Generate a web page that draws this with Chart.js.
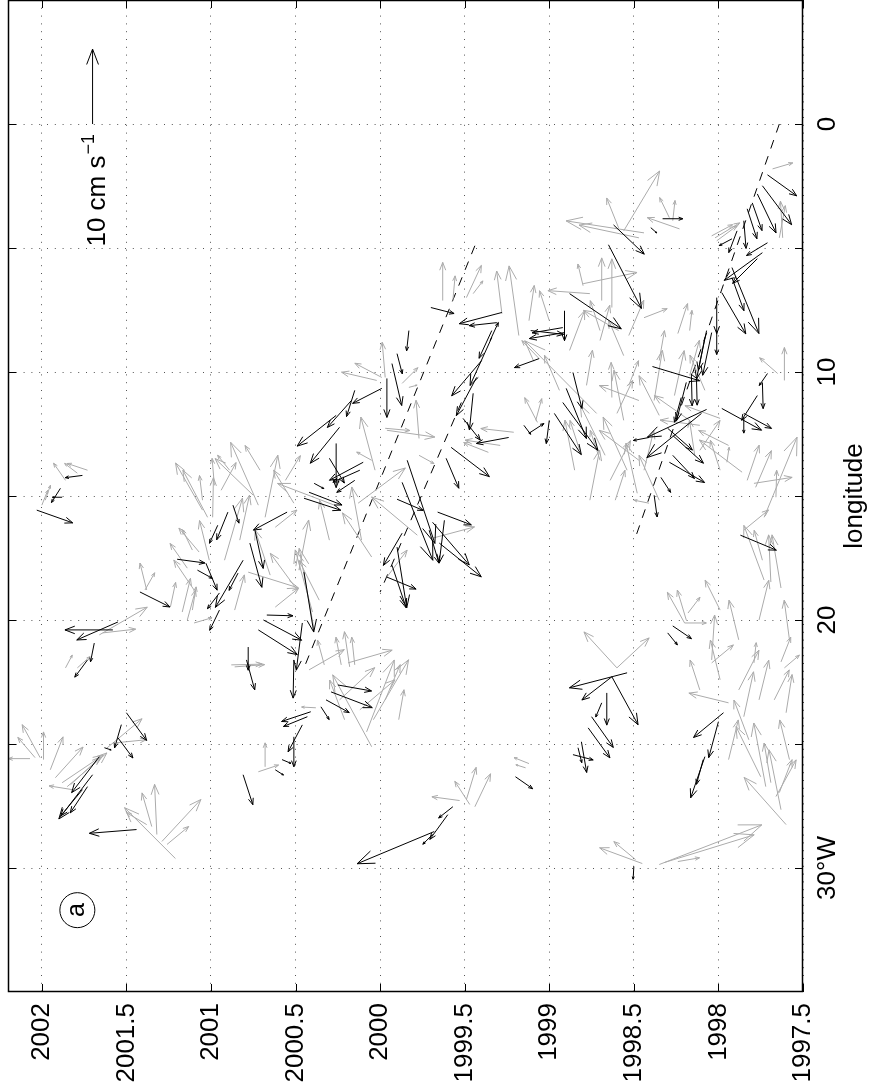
<!DOCTYPE html>
<html>
<head>
<meta charset="utf-8">
<script src="https://cdn.jsdelivr.net/npm/chart.js@4/dist/chart.umd.min.js"></script>
<style>
  html, body { margin: 0; padding: 0; background: #fff; }
  #wrap { width: 869px; height: 1090px; }
</style>
</head>
<body>
<div id="wrap"><canvas id="chart" width="869" height="1090"></canvas></div>
<script>
'use strict';

// ************************* DATA **********************************
const timeTicks = [1997.5, 1998, 1998.5, 1999, 1999.5, 2000, 2000.5, 2001, 2001.5, 2002];
const lonTicks = [0, 5, 10, 15, 20, 25, 30];
const lonLabelValues = [0, 10, 20, 30];
const lonLabelTexts = ['0', '10', '20', '30°W'];

// scale arrow: [time, lon, u east cm/s, v north cm/s]
const refArrow = [2001.70, 0, 10, 0];
const refLabel = '10 cm s';
const refLabelSup = '−1';
const panelLetter = 'a';
const panelPos = [2001.79, 31.7];

// dashed propagation lines: [time, lon] end points
const frontA = [[1999.44, 4.91], [2000.45, 21.93]];
const frontB = [[1999.52, 11.23], [2000.00, 18.87]];
const frontC = [[1997.64, 0.0], [1998.49, 16.66]];

// [time, lon (deg W), u (cm/s, east), v (cm/s, north)]
const grayArrows = [
  [1998.59, 4.19, 4.0, 1.6], [1998.56, 4.31, 8.0, -4.8], [1998.44, 4.39, 1.6, 10.4], [1998.47, 4.59, 1.7, 8.0],
  [1998.80, 6.52, 2.9, 0.7], [1998.69, 7.12, 5.7, 0], [1998.63, 7.40, 6.5, 0], [1998.76, 6.84, 0.4, 5.6],
  [1998.80, 6.44, 1.5, -7.2], [1999.63, 7.12, 5.1, 0], [1999.57, 7.12, 3.3, -0.3], [1999.49, 7.00, 4.3, -2.0],
  [1999.28, 7.65, 5.7, 0.7], [1999.18, 8.53, 9.3, 1.3], [1999.45, 6.84, 1.7, -1.3], [1997.68, 1.81, 0.8, -2.7],
  [1997.62, 4.59, 4.9, 0.3], [1997.64, 4.59, 4.3, -0.8], [1998.02, 4.59, 2.0, -3.3], [1998.01, 4.71, 2.0, -2.7],
  [1998.04, 4.51, 1.5, -2.8], [1998.29, 3.78, 2.7, 1.3], [1998.27, 3.90, 2.7, -0.3], [1998.23, 4.23, 1.5, 4.3],
  [1998.44, 7.81, 1.2, -3.1], [1998.24, 8.45, 4.0, -1.3], [1998.17, 8.33, 2.7, -0.3], [2001.86, 14.37, 2.3, 1.6],
  [2001.79, 14.08, 1.3, 1.7], [2001.73, 13.96, 0.9, 2.7], [2002.00, 15.37, 2.0, -0.8], [2001.98, 15.17, 2.0, -0.7],
  [2001.05, 15.57, 6.3, 3.6], [2001.02, 15.86, 6.3, 3.3], [2001.05, 15.17, 3.3, 0.4], [2000.99, 15.86, 5.3, -0.1],
  [2001.07, 17.26, 3.2, 2.7], [2001.11, 17.18, 2.7, 1.3], [2001.14, 17.91, 3.3, 2.3], [2001.38, 18.79, 3.6, 0.9],
  [2001.39, 18.79, 2.3, -1.3], [2001.24, 19.48, 3.3, -0.7], [2001.17, 19.68, 4.5, -1.1], [2001.11, 19.60, 3.1, -0.5],
  [2001.14, 20.00, 4.0, -1.1], [2001.10, 20.12, 0.7, -2.4], [2001.66, 20.60, 3.7, -6.4], [2001.64, 20.52, 0.5, -4.4],
  [2001.86, 21.93, 1.7, -0.9], [2001.79, 21.93, 1.5, -1.7], [2002.01, 25.55, 4.4, 2.4], [2001.99, 25.63, 3.7, 0],
  [2001.95, 26.04, 4.4, -1.7], [2002.07, 25.59, 0, 2.9], [2002.04, 25.55, 2.7, 2.3], [2001.92, 26.36, 4.1, -3.7],
  [2001.88, 26.56, 3.7, -5.5], [2001.83, 26.64, 3.7, -4.0], [2001.85, 26.72, 4.5, -5.3], [2001.82, 26.84, 0.5, 3.1],
  [2001.62, 25.19, 4.0, -4.8], [2001.56, 24.95, 0.4, -4.0], [2001.21, 29.62, 6.8, 6.8], [2001.32, 28.65, 6.7, 0.3],
  [2001.35, 28.33, 4.5, 1.3], [2001.38, 28.25, 1.6, 2.7], [2001.29, 28.93, 5.6, -5.2], [2001.26, 29.05, 2.4, -2.9],
  [2000.86, 21.89, 0.3, -4.0], [2000.38, 23.54, 0.1, 1.9], [2000.72, 26.12, 0.9, -2.7], [2000.68, 25.92, 3.2, 0],
  [2000.08, 24.51, 9.6, -3.7], [2000.05, 25.11, 9.6, 5.2], [2000.04, 24.02, 8.0, -4.7], [2000.12, 23.62, 4.0, -4.7],
  [2000.24, 23.22, 4.3, -4.7], [1999.12, 25.79, 0.8, 2.0], [1999.14, 25.96, 0.4, 1.3], [1999.53, 27.28, 0.5, 3.7],
  [1999.47, 27.44, 3.1, 2.0], [1999.49, 27.24, 4.3, -1.3], [1999.44, 27.53, 4.4, -2.1], [1998.45, 29.82, 2.1, 5.7],
  [1998.49, 29.66, 2.4, 2.9], [1997.94, 23.34, 1.3, 5.3], [1997.85, 23.90, 6.0, -1.3], [1997.75, 26.32, 6.7, 3.3],
  [1997.72, 26.72, 8.5, 1.6], [1997.69, 26.56, 5.3, 0.9], [1997.63, 27.65, 8.0, 1.6], [1997.66, 27.12, 4.9, -2.7],
  [1997.64, 26.96, 4.4, -1.7], [1997.60, 28.25, 6.3, 5.6], [1997.60, 23.74, 5.1, -0.8], [1998.35, 29.86, 5.3, -13.7],
  [1998.32, 29.78, 3.7, -12.0], [1998.24, 29.74, 0.5, -2.9], [1999.97, 10.22, 4.7, 0.4], [2000.02, 10.34, 1.1, 4.7],
  [1999.99, 10.22, 1.9, 3.6], [1999.87, 10.46, 2.1, -2.1], [1999.83, 10.62, 0.3, -1.1], [2000.03, 13.96, 7.1, 1.9],
  [2000.05, 13.56, 1.1, 2.0], [1999.96, 12.35, -0.9, -6.4], [1999.97, 12.27, -0.3, -3.3], [1999.77, 12.68, 5.1, 0.4],
  [2000.27, 15.37, 2.9, 7.6], [2000.51, 15.29, 4.4, 2.7], [2000.72, 15.37, 8.4, 3.7], [2000.75, 14.97, 4.9, 5.1],
  [2000.68, 15.86, 8.3, -1.7], [2000.62, 16.26, 2.3, -2.9], [2000.92, 17.59, 8.3, -2.4], [2000.78, 18.07, -2.1, -6.7],
  [2000.62, 19.48, 2.5, -3.1], [2000.49, 18.79, 4.9, 3.6], [2000.39, 20.40, 10.9, 2.0], [2000.40, 19.68, 8.3, 2.3],
  [2000.05, 17.46, 5.9, 3.9], [2000.11, 16.78, 7.1, 1.3], [2000.13, 15.29, 4.7, -6.3], [1999.78, 16.58, 5.1, 6.1],
  [1999.96, 18.27, 3.6, -2.7], [1999.77, 13.36, -1.1, -2.0], [2000.19, 21.73, 1.7, -5.9], [2000.23, 21.81, 3.7, 0.7],
  [2000.18, 21.89, 4.7, 0.7], [2000.15, 21.81, 3.7, 0.4], [2000.88, 21.81, 0.1, -4.1], [1998.54, 13.96, 7.1, 3.2],
  [1998.48, 14.89, 6.7, 1.5], [1998.60, 11.67, 4.4, -2.1], [1998.78, 10.54, 4.7, -0.8], [1998.63, 11.03, 4.7, 0.1],
  [1998.53, 10.54, 3.3, -1.3], [1998.72, 11.67, 9.7, 9.6], [1999.06, 9.46, 2.4, 2.3], [1999.08, 11.95, 2.9, -0.8],
  [1999.07, 12.03, 3.3, 1.7], [1999.21, 12.43, 0.5, 4.4], [1999.36, 13.24, 1.3, 3.3], [1999.29, 12.96, 0.7, 4.7],
  [1999.69, 16.70, 1.5, -5.6], [1998.41, 15.29, 0.4, 2.0], [1998.60, 21.93, 4.8, 4.4], [1998.60, 21.93, 4.0, -4.3],
  [1997.86, 14.04, 4.3, 5.7], [1997.95, 13.64, 2.0, -0.3], [1997.65, 10.06, 2.1, 2.4], [1997.61, 10.34, 4.4, 0],
  [1997.83, 14.37, 4.7, -1.6], [1997.78, 14.65, 4.9, -2.1], [1997.73, 15.86, 10.7, -4.4], [1997.66, 15.05, 3.6, -0.1],
  [1997.79, 14.49, 0.8, -5.1], [1997.73, 18.39, 7.3, 2.7], [1997.69, 18.47, 6.3, 0.3], [1997.63, 18.71, 7.1, 1.2],
  [1997.74, 17.59, 4.0, 1.1], [1997.85, 16.38, 2.7, -3.3], [1998.20, 20.12, 4.1, 2.3], [1998.19, 20.00, 4.0, 1.2],
  [1998.18, 19.72, 2.1, -1.6], [1998.20, 20.12, 0, -2.9], [1998.04, 21.61, 6.0, -0.4], [1998.04, 21.73, 2.4, -2.9],
  [1997.79, 21.73, 2.7, -0.3], [1997.63, 21.69, 3.3, -1.3], [1997.61, 21.93, 1.7, -2.0], [1998.38, 11.15, 6.7, -1.1],
  [1998.26, 10.95, 6.0, -1.3], [1998.35, 11.75, 5.3, 2.7], [1998.17, 11.95, 3.3, 4.7], [1998.11, 12.15, 0.7, 5.3],
  [1997.99, 11.87, 1.7, 4.7], [1998.14, 13.36, 4.7, 0.7], [1997.94, 12.96, 2.0, 4.0], [1997.99, 13.96, 4.0, 1.3],
  [1998.70, 13.56, 4.0, 1.3], [1998.64, 14.37, 5.3, -2.7], [1998.82, 13.16, 4.0, 1.3], [1998.47, 13.56, 4.0, 5.3],
  [1998.53, 8.53, 4.7, -2.0], [1998.59, 8.33, 2.7, 4.7], [1998.70, 8.73, 4.7, -1.3], [1997.99, 22.41, 5.3, 1.3],
  [1997.88, 22.82, 5.3, -2.7], [1997.76, 23.22, 5.3, -1.3], [1998.11, 22.82, 4.0, 1.3], [2000.98, 14.57, 3.6, 0.3],
  [2000.94, 14.77, 3.7, -2.0], [2000.89, 13.96, 2.0, 1.6], [2000.33, 21.81, 3.3, 0.9], [2000.42, 22.01, 2.7, -4.7]
];

// extra gray vectors in the crowded patches
const grayDense = [
  [1998.85, 13.96, 6.7, 1.3], [1998.76, 15.17, 6.7, -1.3], [1998.67, 13.36, 6.7, 3.3], [1998.56, 11.95, 6.7, 1.3],
  [1998.44, 13.96, 5.3, -1.3], [1998.35, 15.17, 6.0, 2.7], [1998.70, 8.33, 4.0, 1.3], [1998.88, 9.13, 5.3, -2.0],
  [1998.56, 9.34, 4.7, 2.0], [1998.11, 13.16, 4.0, -2.7], [1998.08, 10.74, 4.7, 2.0], [1998.17, 10.14, 4.7, -1.3],
  [1998.47, 11.15, 2.0, 5.3], [1998.35, 9.54, 4.0, -0.7], [1998.61, 15.17, 4.0, -1.3], [1998.94, 10.74, 4.7, 2.0],
  [2001.01, 17.59, 5.3, 1.3], [2000.83, 16.78, 6.0, -1.3], [2000.65, 18.19, 6.0, 2.0], [2000.48, 17.99, 6.7, -1.3],
  [2000.36, 19.20, 5.3, 2.7], [2000.86, 19.60, 4.7, -1.3], [2000.71, 13.96, 3.3, 2.0], [2000.56, 14.37, 3.3, -2.0],
  [2000.30, 16.78, 5.3, 1.3], [2001.10, 18.79, 4.0, 2.7], [1997.88, 20.80, 5.3, 1.3], [1997.76, 20.00, 5.3, -1.3],
  [1997.58, 20.80, 5.3, 0.7], [1997.99, 19.60, 4.0, 2.0], [1997.82, 24.83, 5.3, 2.0], [1997.94, 25.63, 5.3, -1.3],
  [1997.58, 25.63, 5.3, 1.3], [1997.67, 23.22, 4.0, -2.0], [2000.21, 24.02, 5.3, 2.0], [1999.97, 23.22, 4.7, -2.0],
  [1999.89, 24.02, 4.0, -0.7], [1999.12, 7.93, 4.7, -0.7], [1999.00, 7.93, 4.0, 1.3]
];

const blackArrows = [
  [1998.62, 4.07, -3.9, -4.1], [1998.65, 4.87, -8.5, -4.4], [1998.88, 6.84, -4.7, -6.9], [1999.70, 7.40, -0.8, -3.1],
  [1999.28, 7.60, -1.5, 5.7], [1999.31, 8.01, -0.4, 3.7], [1999.35, 8.73, 2.4, -1.1], [1998.92, 8.21, -0.7, 4.1],
  [1998.91, 8.41, -0.8, 4.7], [1998.91, 7.53, -4.0, 0], [1997.71, 2.05, -2.8, -3.9], [1997.74, 2.49, -5.2, -3.9],
  [1997.77, 2.82, -5.2, -2.5], [1997.80, 3.18, -3.7, -1.3], [1997.83, 3.42, -4.0, -1.3], [1997.85, 3.90, -3.7, -0.3],
  [1997.71, 4.79, -1.7, 2.8], [1997.74, 5.19, -3.7, 5.1], [1997.77, 5.43, -3.3, 3.3], [1997.89, 4.31, -2.9, 1.1],
  [1997.92, 4.63, -0.9, 1.7], [1997.98, 6.80, -5.5, -3.2], [1997.92, 6.20, -4.4, -1.6], [1997.92, 5.79, -8.8, -3.6],
  [1998.01, 7.00, -4.8, 0], [1998.33, 3.82, 0, -2.7], [1998.40, 4.18, -0.7, -0.8], [2002.03, 15.57, -1.7, -4.8],
  [2001.76, 14.17, -0.3, 2.3], [2001.89, 14.69, -1.9, 1.2], [2001.88, 15.05, 0, 1.3], [2000.96, 16.18, -2.4, 1.1],
  [2001.20, 17.55, -0.5, -3.7], [2001.03, 17.71, -3.6, -1.5], [2001.08, 17.99, -1.1, -2.0], [2001.42, 18.87, -2.0, -4.0],
  [2000.95, 18.91, -2.1, 1.6], [2000.95, 19.60, -2.7, 1.3], [2001.55, 20.08, -2.4, 5.5], [2001.58, 20.40, 0, 6.4],
  [2001.69, 20.93, -2.5, 0.5], [2001.73, 21.61, -2.3, 1.7], [2001.66, 25.51, -4.8, 3.7], [2001.70, 26.24, -5.9, 4.5],
  [2001.73, 26.72, -3.5, 2.3], [2001.76, 26.84, -3.5, 2.9], [2001.63, 25.15, -0.3, -0.9], [2001.53, 24.22, -3.1, 0.9],
  [2001.55, 24.75, -2.7, -2.0], [2001.50, 23.74, -3.7, -2.7], [2001.44, 28.45, -0.5, 6.3], [2000.79, 21.61, -4.0, -1.1],
  [2000.51, 21.61, -5.1, 0.1], [2000.41, 23.70, -1.3, 3.9], [2000.43, 23.90, -1.3, 3.2], [2000.35, 23.50, -1.7, -1.1],
  [2000.32, 23.22, -1.7, -3.1], [2000.29, 22.90, -2.1, -5.5], [2000.25, 22.62, -0.8, -4.5], [2000.46, 24.23, -3.6, 1.9],
  [2000.51, 24.71, -4.0, 0], [2000.62, 26.04, -0.7, -1.1], [2000.58, 25.63, -0.5, -1.2], [2000.81, 26.24, -4.0, -1.3],
  [1999.68, 28.53, -4.3, 10.3], [1999.69, 28.65, -1.3, 1.3], [1998.54, 22.13, -2.0, 7.7], [1998.63, 22.29, -3.1, 4.0],
  [1998.63, 22.29, -6.4, -3.5], [1998.66, 22.94, -4.3, 0], [1998.75, 23.90, -4.1, -2.9], [1998.77, 24.35, -4.0, -2.9],
  [1998.81, 24.91, -4.1, -0.7], [1998.86, 25.43, -0.7, -2.7], [1998.83, 25.15, -2.0, -0.5], [1998.69, 23.34, -1.9, 0.8],
  [1999.20, 26.32, -1.6, -2.3], [1999.57, 27.53, -1.5, 1.9], [1999.60, 27.85, -3.3, 2.4], [1998.50, 29.94, -1.7, 0.1],
  [1997.97, 23.74, -3.3, 4.0], [1998.00, 24.10, -4.8, 1.3], [1998.08, 25.51, -5.5, 1.9], [1998.09, 25.63, -3.3, 0.9],
  [1999.83, 8.33, -2.7, 0.3], [1999.90, 9.26, -2.7, -0.7], [1999.99, 10.66, -2.0, 3.9], [1999.96, 10.26, -5.2, 0],
  [1999.93, 9.66, -5.6, -1.3], [2000.15, 10.74, -3.5, 1.1], [2000.17, 11.15, -3.6, 3.2], [2000.26, 11.75, -4.1, 5.2],
  [2000.24, 12.23, -4.8, 3.9], [2000.26, 12.88, -5.9, 0], [2000.30, 13.48, -3.3, -2.0], [2000.10, 13.64, -2.4, 4.5],
  [2000.12, 13.96, -1.6, 3.6], [2000.15, 14.37, -1.6, 2.4], [2000.42, 14.85, -1.7, -4.4], [2000.45, 15.09, -1.6, -4.9],
  [2000.39, 14.49, -0.7, -1.3], [2000.55, 15.65, -2.4, 4.5], [2000.74, 16.38, -5.1, -1.1], [2000.77, 16.90, -5.9, -1.6],
  [2000.87, 15.37, -2.4, -0.8], [1999.87, 16.50, -4.3, 2.5], [1999.96, 18.27, -1.6, -3.9], [1999.90, 17.06, -8.1, -1.3],
  [1999.93, 17.79, -5.7, -1.9], [1999.90, 15.13, -1.5, -3.5], [1999.84, 13.56, -11.1, -3.7], [1999.87, 14.45, -10.4, -4.1],
  [2000.67, 19.80, -0.1, -3.5], [2000.69, 20.00, -2.7, -5.1], [2000.72, 20.40, -3.3, -5.2], [2000.46, 20.12, -6.3, 0.8],
  [2000.78, 21.09, -3.1, 0], [2000.90, 15.65, -3.7, 1.5], [2000.81, 17.59, -6.3, 3.7], [2000.84, 18.11, -2.3, 1.2],
  [2000.45, 18.07, -8.0, -1.3], [1999.34, 8.33, -3.7, 1.7], [1999.34, 8.61, -6.4, 2.9], [1999.40, 9.54, -4.7, 4.0],
  [1999.43, 10.22, -5.1, 2.7], [1999.45, 10.86, -4.9, 0.5], [1999.51, 11.87, -2.9, -2.3], [1999.24, 12.64, -0.8, 4.3],
  [1999.58, 13.04, -3.9, -5.1], [1999.61, 13.48, -4.0, -1.7], [1999.15, 12.15, -1.2, -0.9], [1999.12, 12.47, 1.3, -2.0],
  [1999.00, 11.95, -3.1, 0.4], [1999.06, 9.46, -1.2, 3.3], [1999.11, 8.33, -0.5, -4.4], [1998.86, 10.02, -4.8, -1.2],
  [1998.90, 10.66, -6.7, -2.7], [1998.92, 11.23, -6.4, -4.7], [1998.97, 11.67, -5.5, -3.6], [1998.41, 12.64, -0.4, 2.1],
  [1999.66, 15.65, -1.7, -4.5], [1999.69, 16.06, -5.7, -4.9], [1999.71, 16.38, -4.4, -1.3], [1999.65, 16.90, -4.5, -5.6],
  [1999.62, 15.98, -5.7, 0.7], [1998.07, 8.33, -5.3, 1.1], [1998.08, 8.61, -5.5, 1.1], [1998.04, 8.41, -5.7, 1.2],
  [1998.01, 8.33, -3.2, 0], [1998.39, 9.78, -1.9, -6.3], [1998.16, 10.06, -4.3, -0.1], [1998.13, 10.22, -3.7, -0.1],
  [1998.19, 10.42, -5.1, 1.3], [1998.22, 11.03, -3.3, 0.9], [1998.07, 11.51, -3.7, 7.9], [1998.10, 11.67, -5.9, 7.3],
  [1998.30, 12.27, -2.9, -3.3], [1998.27, 12.56, -3.7, -4.1], [1998.27, 13.36, -3.1, -2.9], [1998.29, 13.64, -2.7, -4.7],
  [1998.34, 14.25, -2.0, -1.3], [1998.38, 14.97, -2.9, -0.4], [1997.98, 11.47, -2.9, -5.3], [1997.85, 11.67, -2.0, -3.7],
  [1997.77, 10.95, -3.3, 2.1], [1997.74, 10.42, -3.5, -0.1], [1997.71, 10.06, -1.6, 1.1], [1997.85, 11.83, -2.1, 0],
  [1997.87, 16.58, -2.0, -4.8], [1998.27, 20.24, -1.7, -2.5], [1998.30, 20.52, -1.6, -1.3]
];

// ************************ HELPERS ********************************
const FONT = '"Liberation Sans", Arial, Helvetica, sans-serif';
const HEAD_RATIO = 0.22;
const HEAD_ANGLE = 21 * Math.PI / 180;
// the 10 cm/s arrow is as long as 3.02 degrees of longitude
const REF_DEG = 3.02;

const toXY = pts => pts.map(p => ({x: p[0], y: p[1]}));

function arrowPath(ctx, x0, y0, x1, y1) {
  const dx = x1 - x0;
  const dy = y1 - y0;
  const len = Math.hypot(dx, dy);
  if (len < 0.5) return;
  const head = len * HEAD_RATIO;
  const ang = Math.atan2(dy, dx);
  ctx.moveTo(x0, y0);
  ctx.lineTo(x1, y1);
  ctx.moveTo(x1 - head * Math.cos(ang - HEAD_ANGLE), y1 - head * Math.sin(ang - HEAD_ANGLE));
  ctx.lineTo(x1, y1);
  ctx.lineTo(x1 - head * Math.cos(ang + HEAD_ANGLE), y1 - head * Math.sin(ang + HEAD_ANGLE));
}

function drawArrows(chart, list, color) {
  const {ctx, scales: {x, y}} = chart;
  const pxPerCm = Math.abs(y.getPixelForValue(REF_DEG) - y.getPixelForValue(0)) / refArrow[2];
  ctx.save();
  ctx.strokeStyle = color;
  ctx.lineWidth = 1;
  ctx.beginPath();
  for (const [t, lon, u, v] of list) {
    const x0 = x.getPixelForValue(t);
    const y0 = y.getPixelForValue(lon);
    // east is up the page, north is toward later years (left)
    arrowPath(ctx, x0, y0, x0 - v * pxPerCm, y0 - u * pxPerCm);
  }
  ctx.stroke();
  ctx.restore();
}

// **************** PLUGINS *************************
const quiverPlugin = {
  id: 'quiver',
  afterDatasetsDraw(chart) {
    drawArrows(chart, grayArrows, '#ababab');
    drawArrows(chart, grayDense, '#ababab');
    drawArrows(chart, blackArrows, '#000');
    drawArrows(chart, [refArrow], '#000');
  }
};

const framePlugin = {
  id: 'frame',
  afterDraw(chart) {
    const {ctx, chartArea: a, scales: {x, y}} = chart;
    ctx.save();
    ctx.strokeStyle = '#000';
    ctx.lineWidth = 1.5;
    ctx.strokeRect(a.left + 0.5, a.top + 0.5, a.right - a.left - 1, a.bottom - a.top - 1);

    // inward ticks on all four sides
    ctx.lineWidth = 1;
    ctx.beginPath();
    for (const t of timeTicks) {
      const px = Math.round(x.getPixelForValue(t)) + 0.5;
      ctx.moveTo(px, a.top); ctx.lineTo(px, a.top + 8);
      ctx.moveTo(px, a.bottom); ctx.lineTo(px, a.bottom - 8);
    }
    for (const l of lonTicks) {
      const py = Math.round(y.getPixelForValue(l)) + 0.5;
      ctx.moveTo(a.left, py); ctx.lineTo(a.left + 8, py);
      ctx.moveTo(a.right, py); ctx.lineTo(a.right - 8, py);
    }
    ctx.stroke();

    ctx.fillStyle = '#000';
    ctx.font = '26px ' + FONT;

    // time labels, rotated
    for (const t of timeTicks) {
      ctx.save();
      ctx.translate(x.getPixelForValue(t), a.bottom + 11);
      ctx.rotate(-Math.PI / 2);
      ctx.textAlign = 'right';
      ctx.textBaseline = 'middle';
      ctx.fillText(String(t), 0, 0);
      ctx.restore();
    }

    // longitude labels, rotated
    lonLabelValues.forEach((l, i) => {
      ctx.save();
      ctx.translate(a.right + 32, y.getPixelForValue(l));
      ctx.rotate(-Math.PI / 2);
      ctx.textAlign = 'center';
      ctx.textBaseline = 'alphabetic';
      ctx.fillText(lonLabelTexts[i], 0, 0);
      ctx.restore();
    });

    // axis title
    ctx.save();
    ctx.translate(a.right + 59, (a.top + a.bottom) / 2);
    ctx.rotate(-Math.PI / 2);
    ctx.textAlign = 'center';
    ctx.textBaseline = 'alphabetic';
    ctx.fillText('longitude', 0, 0);
    ctx.restore();

    // scale arrow label
    const rx = x.getPixelForValue(refArrow[0]);
    const ry = y.getPixelForValue(refArrow[1]);
    ctx.save();
    ctx.translate(rx + 12, ry + 10);
    ctx.rotate(-Math.PI / 2);
    ctx.textBaseline = 'alphabetic';
    ctx.font = '18px ' + FONT;
    const supW = ctx.measureText(refLabelSup).width;
    ctx.textAlign = 'right';
    ctx.fillText(refLabelSup, 0, -11);
    ctx.font = '26px ' + FONT;
    ctx.fillText(refLabel, -supW - 1, 0);
    ctx.restore();

    // panel letter in a circle
    const cx = x.getPixelForValue(panelPos[0]);
    const cy = y.getPixelForValue(panelPos[1]);
    ctx.beginPath();
    ctx.arc(cx, cy, 17.5, 0, Math.PI * 2);
    ctx.lineWidth = 1;
    ctx.stroke();
    ctx.save();
    ctx.translate(cx, cy);
    ctx.rotate(-Math.PI / 2);
    ctx.textAlign = 'center';
    ctx.textBaseline = 'alphabetic';
    ctx.font = '25px ' + FONT;
    ctx.fillText(panelLetter, 0, 6.5);
    ctx.restore();

    ctx.restore();
  }
};

// **************** CHART *************************
const frontStyle = {
  showLine: true,
  borderColor: '#000',
  borderWidth: 1,
  borderDash: [9, 8],
  pointRadius: 0,
  fill: false
};

const gridOpts = {
  color: '#555',
  lineWidth: 1,
  drawTicks: false
};

new Chart(document.getElementById('chart'), {
  type: 'scatter',
  data: {
    datasets: [
      Object.assign({data: toXY(frontA)}, frontStyle),
      Object.assign({data: toXY(frontB)}, frontStyle),
      Object.assign({data: toXY(frontC)}, frontStyle)
    ]
  },
  options: {
    responsive: false,
    animation: false,
    devicePixelRatio: 1,
    layout: {padding: {left: 8, top: 0, right: 0, bottom: 0}},
    plugins: {legend: {display: false}, tooltip: {enabled: false}},
    scales: {
      x: {
        type: 'linear',
        reverse: true,
        min: 1997.5,
        max: 2002.2,
        afterBuildTicks: s => { s.ticks = timeTicks.map(v => ({value: v})); },
        afterFit: s => { s.height = 98; },
        grid: gridOpts,
        border: {display: false, dash: [1, 6.8]},
        ticks: {display: false}
      },
      y: {
        type: 'linear',
        position: 'right',
        reverse: true,
        min: -5,
        max: 35,
        afterBuildTicks: s => { s.ticks = lonTicks.map(v => ({value: v})); },
        afterFit: s => { s.width = 66; },
        grid: gridOpts,
        border: {display: false, dash: [1, 6.8]},
        ticks: {display: false}
      }
    }
  },
  plugins: [quiverPlugin, framePlugin]
});
</script>
